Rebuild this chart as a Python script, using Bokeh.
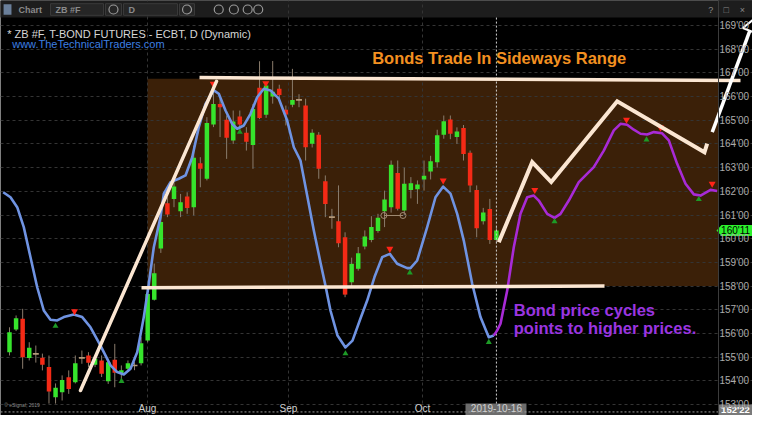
from bokeh.plotting import figure
from bokeh.models import Range1d, FixedTicker
from bokeh.core.properties import value
from bokeh.embed import file_html
from bokeh.resources import INLINE

# ---------------- data (daily bars, index 0 = first visible bar, 74 = 2019-10-16) ----------------
bar_open = [155.21, 156.17, 156.62, 154.96, 155.14, 154.97, 154.58, 153.31, 153.52, 154.15,
            153.94, 154.97, 155.07, 154.68, 154.86, 153.98, 154.89, 154.30, 154.51, 154.65,
            154.74, 155.70, 157.42, 159.59, 161.50, 161.68, 161.16, 161.78, 161.33, 163.19,
            162.53, 164.82, 165.69, 165.02, 164.15, 165.16, 164.47, 163.96, 166.37, 165.23,
            166.00, 166.33, 165.44, 165.65, 165.86, 165.62, 164.01, 164.39, 162.43, 160.91,
            160.74, 160.06, 158.16, 158.73, 159.67, 159.95, 160.32, 161.16, 161.33, 162.77,
            161.19, 162.06, 162.09, 162.50, 162.84, 163.23, 164.39, 165.03, 164.29, 164.67,
            163.63, 162.06, 160.74, 161.25, 159.95]
bar_high = [156.26, 156.76, 157.04, 155.63, 155.49, 155.15, 155.07, 153.89, 154.23, 154.44,
            155.07, 155.28, 155.21, 155.07, 155.07, 154.93, 155.56, 154.65, 154.86, 154.79,
            155.84, 157.89, 158.95, 160.95, 161.75, 162.50, 161.89, 161.96, 163.93, 163.44,
            165.13, 166.20, 165.91, 165.20, 165.41, 165.41, 164.71, 165.69, 167.49, 166.60,
            167.50, 166.50, 165.62, 167.17, 166.10, 165.91, 164.62, 164.50, 162.67, 161.26,
            162.25, 160.27, 159.20, 159.65, 160.35, 160.95, 161.05, 162.03, 163.30, 163.30,
            163.00, 162.60, 162.46, 163.30, 163.50, 164.60, 165.20, 165.20, 164.70, 164.80,
            163.72, 162.25, 161.30, 161.68, 160.50]
bar_low = [155.07, 156.10, 154.51, 154.86, 154.77, 154.44, 153.04, 153.04, 153.17, 153.45,
           153.89, 154.72, 154.58, 154.58, 154.16, 153.87, 153.73, 154.05, 154.44, 154.45,
           154.65, 155.63, 157.39, 159.40, 160.91, 161.33, 160.91, 161.05, 160.98, 162.17,
           162.46, 164.71, 164.29, 163.37, 164.00, 164.50, 163.72, 162.95, 165.05, 165.10,
           165.70, 165.90, 164.78, 165.55, 165.55, 163.30, 163.85, 162.53, 160.91, 160.42,
           159.64, 157.53, 158.00, 158.65, 159.55, 159.85, 160.25, 160.49, 161.10, 161.19,
           161.00, 161.70, 161.47, 162.03, 162.50, 163.00, 164.22, 164.20, 164.00, 163.30,
           161.96, 160.06, 160.60, 159.78, 159.80]
bar_close = [156.05, 156.64, 155.00, 155.40, 155.14, 154.68, 153.55, 153.71, 154.04, 153.66,
             154.74, 154.97, 154.76, 154.93, 154.30, 154.79, 154.34, 154.45, 154.74, 154.65,
             155.59, 157.67, 158.54, 160.70, 161.02, 162.20, 161.54, 161.30, 163.42, 162.95,
             164.88, 165.69, 165.55, 164.26, 164.95, 164.82, 164.09, 165.48, 165.10, 166.47,
             166.20, 166.07, 165.24, 165.86, 165.86, 163.86, 164.47, 162.95, 161.47, 160.91,
             159.81, 157.64, 158.94, 159.39, 160.09, 160.49, 160.88, 161.66, 163.12, 161.26,
             162.32, 162.34, 162.29, 162.66, 163.27, 164.37, 164.96, 164.43, 164.53, 163.58,
             162.25, 160.44, 161.11, 159.95, 160.34375]

# price-cycle indicator: history (blue) and projection (purple)
cycle_hist_x = [-0.96, 0.15, 1.17, 2.17, 3.19, 4.21, 5.21, 6.23, 7.25, 8.25, 9.77, 11.05, 12.31,
                13.83, 15.35, 16.37, 17.37, 18.39, 19.41, 20.41, 21.17, 21.93, 22.95, 23.45,
                24.47, 25.73, 26.75, 27.77, 28.77, 29.79, 31.05, 31.81, 32.83, 33.84, 34.60,
                35.61, 36.63, 37.64, 38.65, 39.67, 40.93, 42.20, 43.21, 44.22, 45.24, 46.25,
                47.26, 48.02, 48.78, 49.85, 51.06, 52.13, 53.34, 54.36, 55.47, 56.64, 57.80,
                58.92, 60.44, 60.94, 61.96, 63.48, 64.74, 65.91, 67.02, 68.04, 69.04, 70.32,
                71.58, 72.84, 73.60]
cycle_hist_y = [161.96, 161.75, 161.33, 160.49, 159.22, 157.95, 156.97, 156.58, 156.55, 156.69,
                156.80, 156.69, 156.26, 155.49, 154.65, 154.37, 154.27, 154.51, 155.21, 156.69,
                158.10, 159.64, 160.91, 161.90, 162.39, 162.53, 162.67, 163.44, 164.71, 165.69,
                166.26, 166.12, 165.41, 164.85, 164.64, 164.78, 165.27, 165.97, 166.33, 166.26,
                165.91, 164.99, 163.86, 163.30, 161.82, 160.35, 159.00, 158.02, 156.97, 155.91,
                155.41, 155.70, 156.63, 157.39, 158.38, 159.22, 159.36, 158.94, 158.76, 158.76,
                159.08, 160.49, 161.75, 162.20, 161.90, 161.05, 159.92, 158.10, 156.69, 155.84,
                155.91]
cycle_proj_x = [73.60, 74.12, 74.62, 75.64, 76.64, 77.66, 78.68, 79.68, 80.44, 81.72, 82.83,
                83.74, 85.00, 86.52, 88.80, 90.32, 91.84, 92.86, 93.87, 94.88, 95.90, 96.91,
                97.92, 99.19, 100.20, 101.47, 102.74, 104.00, 105.02, 106.54, 107.55]
cycle_proj_y = [155.91, 156.13, 156.41, 157.81, 159.64, 161.05, 161.75, 161.82, 161.61, 161.05,
                160.88, 161.05, 161.61, 162.39, 163.02, 163.72, 164.57, 164.85, 164.81, 164.60,
                164.43, 164.40, 164.50, 164.45, 164.15, 163.16, 162.32, 161.87, 161.82, 162.06,
                162.01]

cycle_top_x = [9.88, 30.96, 38.95, 57.80, 65.91, 79.83, 93.77, 98.94, 106.79]
cycle_top_y = [156.94, 166.54, 166.56, 159.57, 162.46, 162.06, 165.02, 164.69, 162.32]
cycle_bottom_x = [6.99, 17.02, 35.00, 51.06, 60.84, 72.84, 82.83, 96.81, 104.76]
cycle_bottom_y = [156.31, 153.98, 164.50, 155.15, 158.56, 155.63, 160.73, 164.18, 161.66]

# hand-drawn annotations (bar index, price)
range_box = dict(left=20.97, right=107.75, bottom=158.00, top=166.75)
range_top_x = [28.88, 111.10]
range_top_y = [166.80, 166.68]
range_bottom_x = [20.06, 90.43]
range_bottom_y = [157.93, 158.00]
rally_x = [10.79, 31.46]
rally_y = [153.59, 166.64]
path_x = [74.36, 79.44, 82.33, 92.36, 105.62, 106.03]
path_y = [159.85, 163.23, 162.39, 165.80, 163.65, 164.01]
target_x = [106.80, 112.75]
target_y = [164.50, 168.95]
tool_x = [56.90, 59.80]
tool_y = [160.98, 160.98]

x_tick_pos = [20.97, 42.40, 62.77]
x_tick_labels = ["Aug", "Sep", "Oct"]
last_bar = 74
last_bar_label = "2019-10-16"
y_tick_values = list(range(153, 170))
y_tick_labels = [str(v) + "'00" for v in y_tick_values]
last_price = 160.34375
last_price_label = "160'11"
cursor_price = 152.6875
cursor_price_label = "152'22"

# ---------------- layout / styling ----------------
GREEN = "#36e42c"
RED = "#f42a16"
DOJI = "#b49a7a"
WICK = "#8a7c6c"
CREAM = "#fbe6d2"
FONT = value("Liberation Sans")
X0, X1 = -1.368, 112.92          # frame spans the whole figure
Y0, Y1 = 152.537, 170.055
AXIS_X = 107.75                  # price-scale column starts here
AXIS_Y = 153.128                 # date labels sit under this level

p = figure(width=752, height=415,
           x_range=Range1d(X0, X1), y_range=Range1d(Y0, Y1),
           y_axis_location="right", toolbar_location=None, output_backend="svg",
           min_border_left=0, min_border_top=0, min_border_right=0, min_border_bottom=0,
           background_fill_color="#000000", border_fill_color="#000000",
           outline_line_color=None)

yax = p.yaxis[0]
yax.fixed_location = AXIS_X
yax.ticker = FixedTicker(ticks=y_tick_values)
yax.major_label_overrides = {v: l for v, l in zip(y_tick_values, y_tick_labels)}
yax.major_label_text_color = "#ababab"
yax.major_label_text_font = "Liberation Sans"
yax.major_label_text_font_size = "10px"
yax.major_label_standoff = 1
yax.major_tick_out = 0
yax.major_tick_in = 0
yax.minor_tick_line_color = None
yax.axis_line_color = "#3c3c3c"

xax = p.xaxis[0]
xax.fixed_location = AXIS_Y
all_x_ticks = x_tick_pos + [last_bar]
all_x_labels = x_tick_labels + [last_bar_label]
xax.ticker = FixedTicker(ticks=all_x_ticks)
xax.major_label_overrides = {v: l for v, l in zip(all_x_ticks, all_x_labels)}
xax.major_label_text_color = "#d0d0d0"
xax.major_label_text_font = "Liberation Sans"
xax.major_label_text_font_size = "10px"
xax.major_label_standoff = 2
xax.major_tick_out = 0
xax.major_tick_in = 0
xax.minor_tick_line_color = None
xax.axis_line_color = None

p.ygrid.ticker = FixedTicker(ticks=y_tick_values)
p.xgrid.ticker = FixedTicker(ticks=x_tick_pos)
for g in (p.xgrid, p.ygrid):
    g.grid_line_color = "#343434"
    g.grid_line_dash = "3 3"
    g.grid_line_width = 1

# sideways range box (under the grid)
p.quad(left=[range_box["left"]], right=[range_box["right"]], bottom=[range_box["bottom"]],
       top=[range_box["top"]], fill_color="#3b2008", line_color=None, level="image")
# price-scale column (covers grid there)
p.quad(left=[AXIS_X], right=[X1 + 1], bottom=[Y0 - 1], top=[Y1 + 1],
       fill_color="#000000", line_color=None, level="underlay")
# top toolbar strip
p.quad(left=[X0 - 1], right=[X1 + 1], bottom=[169.338], top=[Y1 + 1],
       fill_color="#1d1d1d", line_color=None, level="underlay")
p.quad(left=[6.23, 17.33], right=[14.29, 25.53], bottom=[169.43, 169.43], top=[169.92, 169.92],
       fill_color="#262626", line_color="#3a3a3a", line_width=1)
p.quad(left=[14.59, 25.84], right=[17.02, 28.12], bottom=[169.43, 169.43], top=[169.92, 169.92],
       fill_color="#262626", line_color="#3a3a3a", line_width=1)
p.quad(left=[-0.9], right=[0.3], bottom=[169.45], top=[169.90], fill_color="#6a7f9a", line_color=None)
p.text(x=[1.37, 6.99, 18.09], y=[169.633] * 3, text=["Chart", "ZB #F", "D"],
       text_font=FONT, text_font_size="9px", text_color="#8a8a8a", text_baseline="middle",
       text_font_style="bold")
p.scatter(x=[15.8, 26.98, 31.8, 34.1, 36.2, 37.8], y=[169.675] * 6, marker="circle", size=9,
          fill_color=None, line_color="#9a9a9a", line_width=1.2)
p.text(x=[106.2, 108.5, 111.0], y=[169.65] * 3, text=["?", "\u25a1", "\u00d7"],
       text_font=FONT, text_font_size="9px", text_color="#8a8a8a", text_baseline="middle")

# date flag box
p.quad(left=[69.30], right=[78.57], bottom=[Y0 - 1], top=[153.04], fill_color="#6c6c6c",
       line_color=None)

# candles
idx = list(range(len(bar_open)))
p.segment(x0=idx, y0=bar_low, x1=idx, y1=bar_high, line_color=WICK, line_width=1)
colors, tops, bots = [], [], []
doji_x, doji_y = [], []
for i, (o, c) in enumerate(zip(bar_open, bar_close)):
    tops.append(max(o, c))
    bots.append(min(o, c))
    if c > o:
        colors.append(GREEN)
    elif c < o:
        colors.append(RED)
    else:
        colors.append(DOJI)
        doji_x.append(i)
        doji_y.append(c)
p.vbar(x=idx, top=tops, bottom=bots, width=0.68, fill_color=colors, line_color=None)
p.rect(x=doji_x, y=doji_y, width=0.9, height=1.6, height_units="screen",
       fill_color=DOJI, line_color=None)

# crosshair
p.segment(x0=[last_bar], y0=[153.04], x1=[last_bar], y1=[169.338], line_color="#cfcfcf",
          line_dash="2 2", line_width=1)
p.segment(x0=[X0], y0=[cursor_price], x1=[AXIS_X], y1=[cursor_price], line_color="#9a9a9a",
          line_dash="2 2", line_width=1)

# drawing tool
p.line(tool_x, tool_y, line_color="#a08a72", line_width=1)
p.scatter(tool_x, tool_y, marker="circle", size=6, fill_color=None, line_color="#a08a72", line_width=1)

# cycle lines
p.line(cycle_hist_x, cycle_hist_y, line_color="#6f93e2", line_width=2.6, line_join="round")
p.line(cycle_proj_x, cycle_proj_y, line_color="#a82ad6", line_width=2.6, line_join="round")
p.scatter(cycle_top_x, cycle_top_y, marker="inverted_triangle", size=7, fill_color="#ff2418", line_color=None)
p.scatter(cycle_bottom_x, cycle_bottom_y, marker="triangle", size=6, fill_color="#1d9a26", line_color=None)

# hand-drawn lines
p.line(range_top_x, range_top_y, line_color=CREAM, line_width=3.5)
p.line(range_bottom_x, range_bottom_y, line_color=CREAM, line_width=3.5)
p.line(rally_x, rally_y, line_color=CREAM, line_width=3.5, line_cap="round")
p.line(path_x, path_y, line_color=CREAM, line_width=4, line_join="miter")
p.line(target_x, target_y, line_color="#ffffff", line_width=3.5)
p.scatter(x=[target_x[1]], y=[target_y[1]], marker="triangle", size=15, angle=-0.37,
          fill_color="#000000", line_color="#ffffff", line_width=2)

# last price flag and cursor price flag
p.patch(x=[107.45, 108.21, X1 + 1, X1 + 1, 108.21],
        y=[last_price, 160.575, 160.575, 160.115, 160.115],
        fill_color="#2cf02c", line_color=None)
p.quad(left=[107.75], right=[X1 + 1], bottom=[Y0 - 1], top=[153.0], fill_color="#7a7a7a",
       line_color=None)
p.text(x=[108.15], y=[last_price], text=[last_price_label], text_font=FONT,
       text_font_size="10px", text_color="#000000", text_baseline="middle")
p.text(x=[108.15], y=[152.80], text=[cursor_price_label], text_font=FONT,
       text_font_size="9.5px", text_font_style="bold", text_color="#ffffff", text_baseline="middle")

# texts
p.text(x=[-0.35], y=[168.65], text=["* ZB #F, T-BOND FUTURES - ECBT, D (Dynamic)"],
       text_font=FONT, text_font_size="11px", text_color="#d6d6d6", text_baseline="alphabetic")
p.text(x=[0.41], y=[168.23], text=["www.TheTechnicalTraders.com"],
       text_font=FONT, text_font_size="11px", text_color="#3d7fe2", text_baseline="alphabetic")
p.text(x=[55.12], y=[167.64], text=["Bonds Trade In Sideways Range"],
       text_font=FONT, text_font_size="16.5px", text_font_style="bold", text_color="#f39020",
       text_baseline="alphabetic")
p.text(x=[76.64, 76.64], y=[157.00, 156.24],
       text=["Bond price cycles", "points to higher prices."],
       text_font=FONT, text_font_size="16.5px", text_font_style="bold", text_color="#9a35e0",
       text_baseline="alphabetic")
p.text(x=[-0.8], y=[153.0], text=["\u00a9 eSignal, 2019"], text_font=FONT,
       text_font_size="5px", text_color="#8a8a8a", text_baseline="middle")

open("out.html", "w").write(file_html(p, INLINE))
